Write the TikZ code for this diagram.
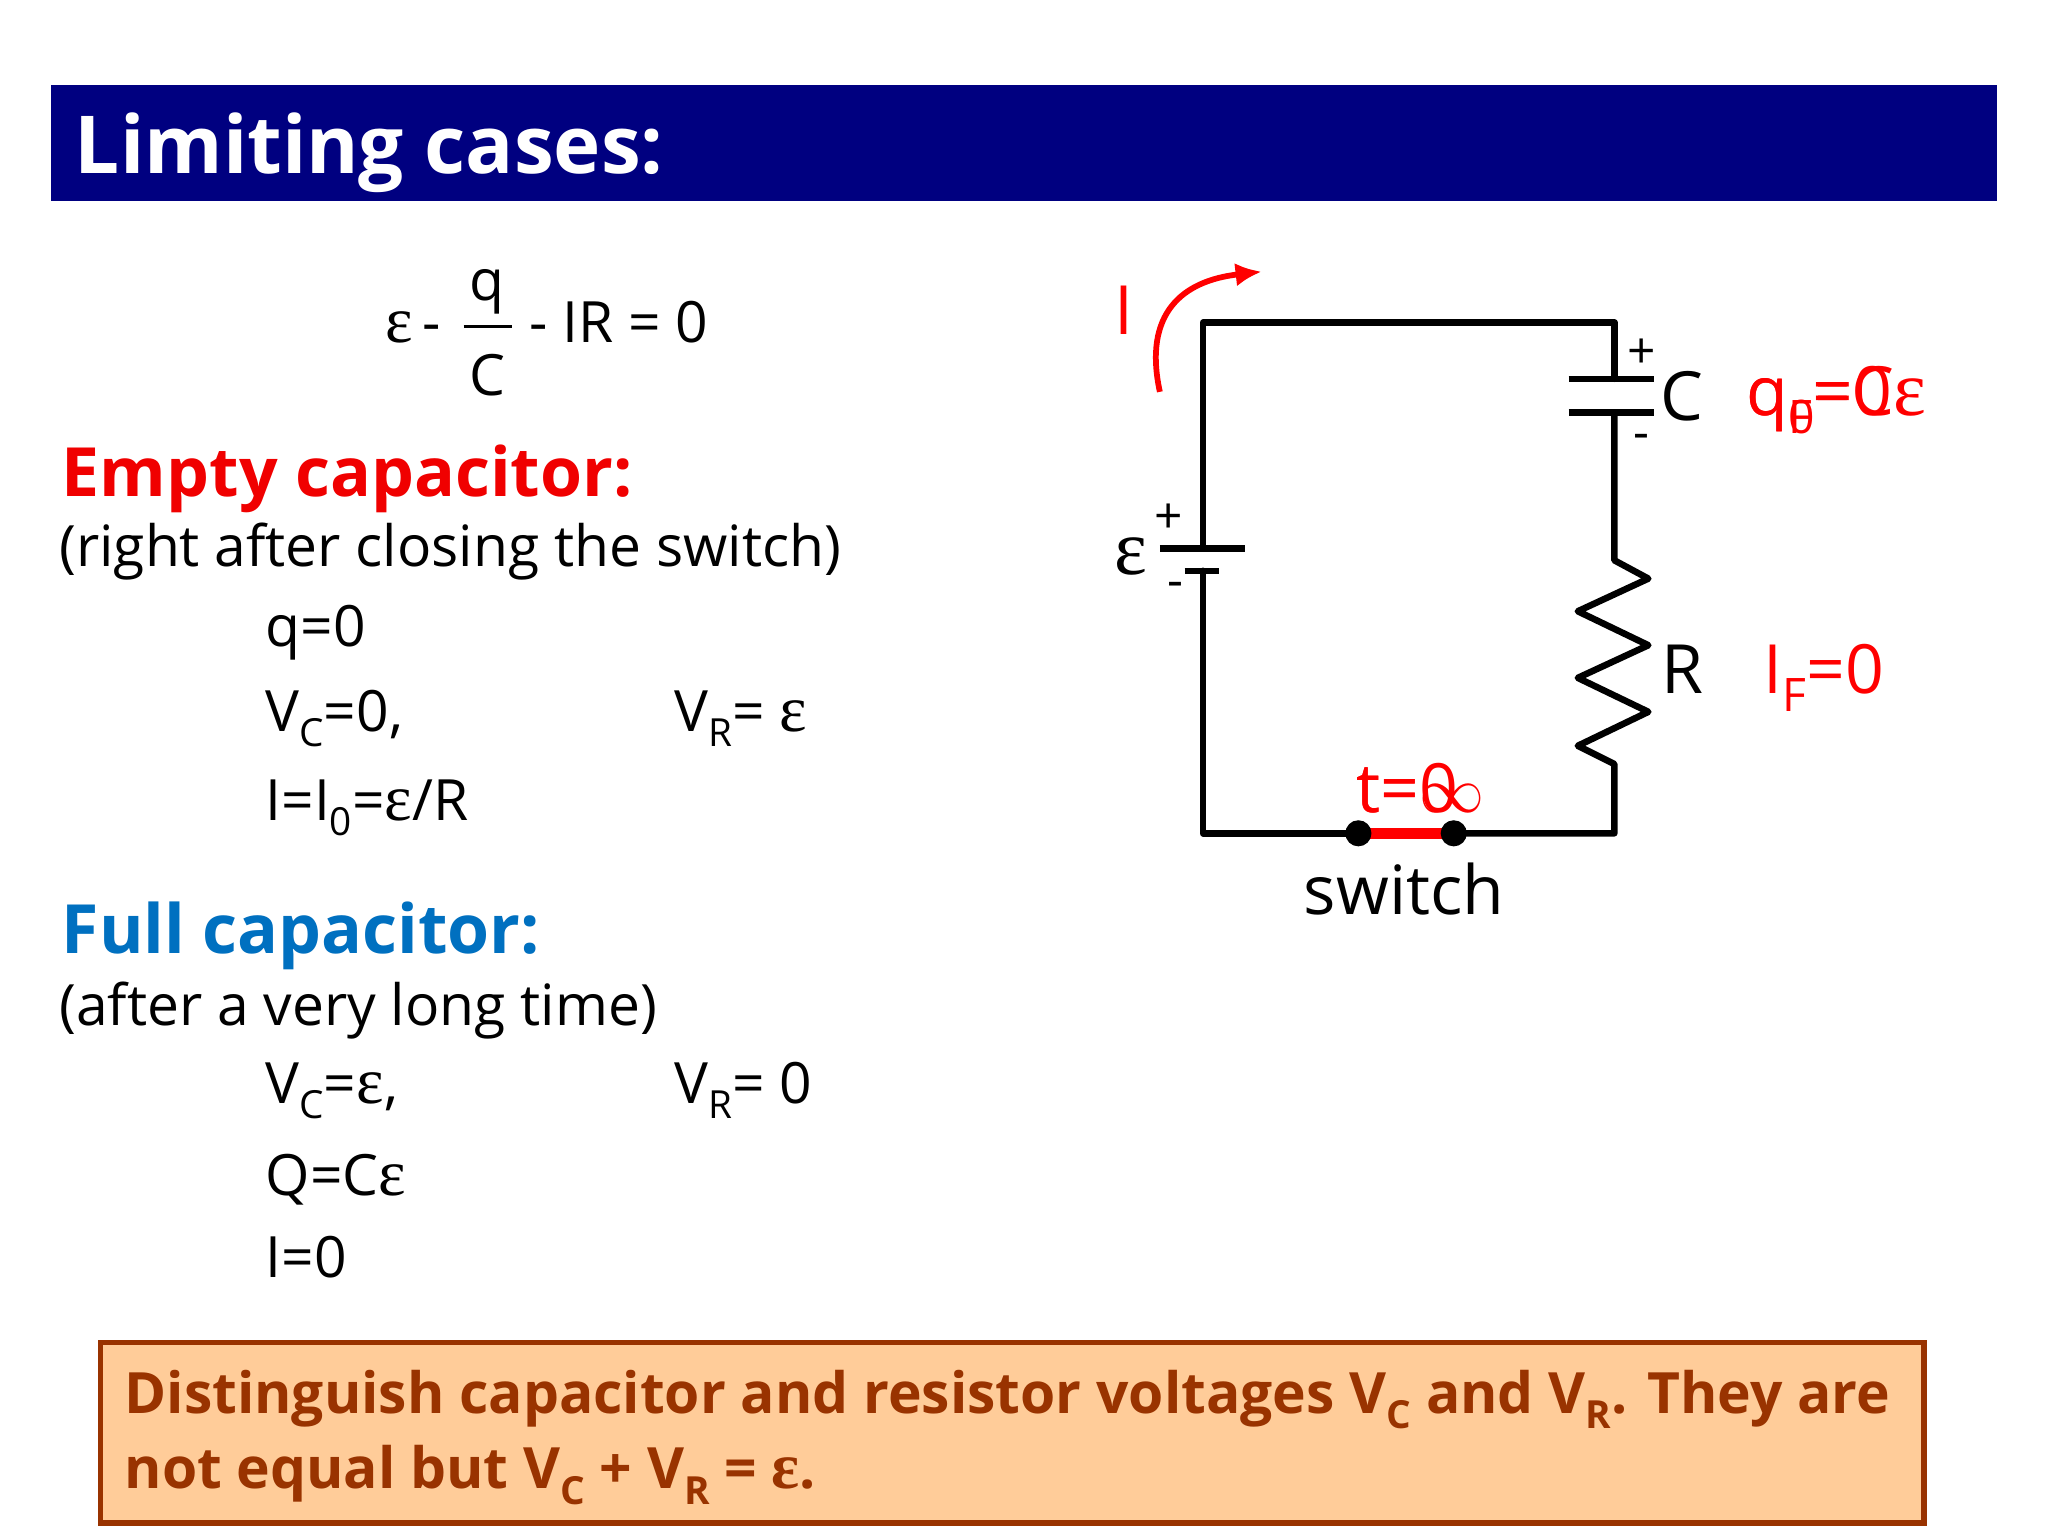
\documentclass[tikz,border=0pt]{standalone}
\usepackage{fontspec}
\usetikzlibrary{arrows.meta}
\setmainfont{Open Sans}
\newfontfamily\epsf{Liberation Serif}
\newcommand{\eps}{{\epsf\scalebox{1.15}{ε}}}
\newcommand{\lowsub}[1]{\raisebox{-0.5ex}{\scalebox{0.68}{#1}}}
\definecolor{navy}{RGB}{0,0,128}
\definecolor{hred}{RGB}{240,0,0}
\definecolor{hblue}{RGB}{0,112,192}
\definecolor{brn}{RGB}{153,51,0}
\definecolor{boxfill}{RGB}{255,204,153}
\tikzset{
 txt/.style={anchor=base west,inner sep=0pt,font=\fontsize{21.8}{24}\selectfont},
 ctxt/.style={anchor=base west,inner sep=0pt,font=\fontsize{26}{28}\selectfont},
 red txt/.style={ctxt,text=red},
 sign/.style={anchor=center,inner sep=0pt,font=\fontsize{19}{20}\selectfont},
 wire/.style={line width=2.5pt,line cap=round,line join=round},
 dot/.style={circle,fill=black,minimum size=10pt,inner sep=0pt}
}
\begin{document}
\begin{tikzpicture}[x=0.5pt,y=-0.5pt]
\useasboundingbox (0,0) rectangle (1568,1176);
\fill[white] (0,0) rectangle (1568,1176);
% banner
\fill[navy] (39,65) rectangle (1529,154);
\node[anchor=base west,inner sep=0pt,text=white,font=\fontsize{30.6}{32}\selectfont\bfseries] (title) at (57,133) {Limiting cases:};
% equation
\node[txt] (e1) at (295,262) {\eps\,-};
\node[txt,anchor=base] (eq) at (373,230) {q};
\node[txt,anchor=base] (ec) at (373,303) {C};
\draw[line width=1pt] (355,250) -- (392,250);
\node[txt] (e2) at (405,262) {- IR = 0};
% empty capacitor
\node[anchor=base west,inner sep=0pt,text=hred,font=\fontsize{26}{28}\selectfont\bfseries] (h1) at (47,380) {Empty capacitor:};
\node[txt] (s1) at (45,434) {(right after closing the switch)};
\node[txt] (a1) at (203,495) {q=0};
\node[txt] (a2) at (203,560) {V\lowsub{C}=0,};
\node[txt] (a3) at (516,560) {V\lowsub{R}= \eps};
\node[txt] (a4) at (203,628) {I=I\lowsub{0}=\eps/R};
% full capacitor
\node[anchor=base west,inner sep=0pt,text=hblue,font=\fontsize{26}{28}\selectfont\bfseries] (h2) at (47,730) {Full capacitor:};
\node[txt] (s2) at (45,785) {(after a very long time)};
\node[txt] (b1) at (203,845) {V\lowsub{C}=\eps,};
\node[txt] (b2) at (516,845) {V\lowsub{R}= 0};
\node[txt] (b3) at (203,915) {Q=C\eps};
\node[txt] (b4) at (203,978) {I=0};
% bottom box
\draw[brn,fill=boxfill,line width=2pt] (77,1028) rectangle (1473,1166);
\node[anchor=base west,inner sep=0pt,text=brn,font=\fontsize{21.8}{24}\selectfont\bfseries] (n1) at (95,1082) {Distinguish capacitor and resistor voltages V\lowsub{C} and V\lowsub{R}. They are};
\node[anchor=base west,inner sep=0pt,text=brn,font=\fontsize{21.8}{24}\selectfont\bfseries] (n2) at (95,1140) {not equal but V\lowsub{C} + V\lowsub{R} = \eps.};
% circuit
\coordinate (tl) at (921,247);
\coordinate (tr) at (1236,247);
\coordinate (bl) at (921,638);
\coordinate (br) at (1236,638);
\draw[wire] (921,420) -- (tl) -- (tr) -- (1236,290);
\draw[wire,line cap=butt] (888,420) -- (953,420);
\draw[wire,line cap=butt] (907,437) -- (933,437);
\draw[wire] (921,437) -- (bl) -- (1040,638);
\draw[wire,line cap=butt] (1201,290) -- (1266,290);
\draw[wire,line cap=butt] (1201,316) -- (1266,316);
\draw[wire] (1236,316) -- (1236,429) -- (1262,443) -- (1208,468) -- (1262,494) -- (1208,519) -- (1262,545) -- (1208,571) -- (1236,585) -- (br) -- (1113,638);
\draw[red,line width=4pt] (1040,638) -- (1113,638);
\node[dot] (d1) at (1040,638) {};
\node[dot] (d2) at (1113,638) {};
\node[sign] (cp) at (1257,271) {+};
\node[sign] (cm) at (1257,338) {-};
\node[sign] (bp) at (895,397) {+};
\node[sign] (bm) at (900,452) {-};
\node[ctxt,anchor=base] (el) at (866,440) {\eps};
\node[ctxt] (cl) at (1271,322) {C};
\node[ctxt] (rl) at (1272,531) {R};
\node[red txt] (q0) at (1337,318) {q\lowsub{0}=0};
\node[red txt] (qf) at (1337,318) {q\lowsub{F}=C\eps};
\node[red txt] (if) at (1350,531) {I\lowsub{F}=0};
\node[red txt] (t0) at (1038,622) {t=0};
\node[red txt] (tf) at (1038,622) {t=$\infty$};
\node[ctxt,anchor=base] (sw) at (1075,700) {switch};
\node[red txt] (il) at (853,256) {I};
\coordinate (ia) at (888,300);
\coordinate (ib) at (966,208);
\draw[red,line width=2.2pt,-{Latex[length=10pt,width=9pt]}] (ia) .. controls (875,240) and (905,215) .. (ib);
\end{tikzpicture}
\end{document}
